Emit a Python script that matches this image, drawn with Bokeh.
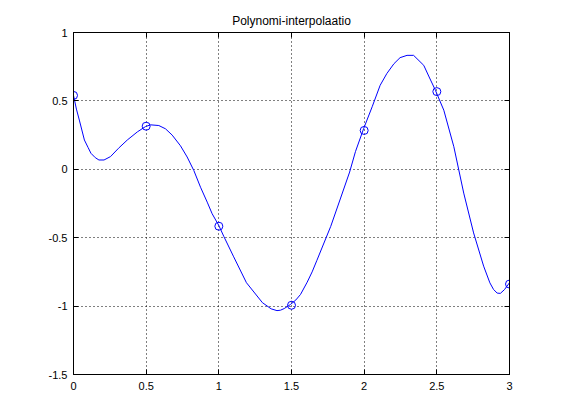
from bokeh.plotting import figure
from bokeh.models import Range1d, LinearAxis, FixedTicker, CustomJSTickFormatter
from bokeh.embed import file_html
from bokeh.resources import INLINE

# Interpolation nodes (circles)
node_x = [0.0, 0.5, 1.0, 1.5, 2.0, 2.5, 3.0]
node_y = [0.54, 0.315, -0.416, -0.994, 0.284, 0.568, -0.839]

# Interpolating curve
curve_x = [0.0, 0.02, 0.04, 0.075, 0.10, 0.12, 0.15, 0.175, 0.21, 0.255, 0.31,
           0.37, 0.44, 0.495, 0.53, 0.587, 0.633, 0.679, 0.736, 0.782, 0.828,
           0.874, 0.92, 0.954, 1.0, 1.034, 1.10, 1.19, 1.30, 1.36, 1.40,
           1.424, 1.45, 1.493, 1.53, 1.562, 1.608, 1.642, 1.675,
           1.77, 1.838, 1.90, 1.94, 1.997, 2.055, 2.11, 2.156, 2.205, 2.247, 2.295,
           2.34, 2.41, 2.447, 2.49, 2.548, 2.617, 2.685, 2.753, 2.822, 2.865, 2.89,
           2.915, 2.937, 2.965, 3.0]
curve_y = [0.54, 0.44, 0.36, 0.214, 0.16, 0.117, 0.085, 0.068, 0.068, 0.093, 0.154,
           0.214, 0.274, 0.312, 0.325, 0.320, 0.296, 0.250, 0.172, 0.090, -0.009,
           -0.131, -0.240, -0.325, -0.411, -0.490, -0.635, -0.829, -0.975, -1.02, -1.033,
           -1.030, -1.018, -0.988, -0.955, -0.915, -0.825, -0.75, -0.665,
           -0.417, -0.21, -0.02, 0.129, 0.299, 0.457, 0.614, 0.70, 0.772, 0.816, 0.833,
           0.833, 0.76, 0.675, 0.578, 0.432, 0.165, -0.174, -0.465, -0.708, -0.83, -0.878,
           -0.905, -0.907, -0.88, -0.829]

x_ticks = [0, 0.5, 1, 1.5, 2, 2.5, 3]
x_tick_labels = ["0", "0.5", "1", "1.5", "2", "2.5", "3"]
y_ticks = [-1.5, -1, -0.5, 0, 0.5, 1]
y_tick_labels = ["-1.5", "-1", "-0.5", "0", "0.5", "1"]
title_text = "Polynomi-interpolaatio"

FONT = "Liberation Sans"

p = figure(frame_width=436, frame_height=342, width=549, height=410,
           x_range=Range1d(0, 3), y_range=Range1d(-1.5, 1),
           output_backend="svg", toolbar_location=None,
           min_border_left=73, min_border_top=32, min_border_right=40,
           min_border_bottom=36, x_axis_location=None, y_axis_location=None)
p.background_fill_color = "white"
p.border_fill_color = "white"
p.outline_line_color = "black"
p.outline_line_width = 1

p.title.text = title_text
p.title.align = "center"
p.title.text_font = FONT
p.title.text_font_size = "12px"
p.title.text_font_style = "normal"
p.title.text_color = "black"

def style_axis(ax, ticks, labels, show_labels, standoff):
    ax.ticker = FixedTicker(ticks=ticks)
    if show_labels:
        ax.major_label_overrides = {t: l for t, l in zip(ticks, labels)}
        ax.major_label_text_font = FONT
        ax.major_label_text_font_size = "11px"
        ax.major_label_text_color = "black"
        ax.major_label_standoff = standoff
    else:
        ax.formatter = CustomJSTickFormatter(code="return ''")
        ax.major_label_standoff = 0
    ax.major_tick_in = 5
    ax.major_tick_out = 0
    ax.minor_tick_line_color = None
    ax.axis_line_color = "black"
    ax.major_tick_line_color = "black"

bottom = LinearAxis()
left = LinearAxis()
top = LinearAxis()
right = LinearAxis()
style_axis(bottom, x_ticks, x_tick_labels, True, 7)
style_axis(left, y_ticks, y_tick_labels, True, 6)
style_axis(top, x_ticks, x_tick_labels, False, 0)
style_axis(right, y_ticks, y_tick_labels, False, 0)
p.add_layout(bottom, "below")
p.add_layout(left, "left")
p.add_layout(top, "above")
p.add_layout(right, "right")

p.xgrid.ticker = FixedTicker(ticks=x_ticks)
p.ygrid.ticker = FixedTicker(ticks=y_ticks)
for g in (p.xgrid, p.ygrid):
    g.grid_line_color = "black"
    g.grid_line_dash = "1 3"
    g.grid_line_width = 1

p.line(curve_x, curve_y, line_color="#0000ff", line_width=1)
p.scatter(node_x, node_y, marker="circle", size=8, fill_color=None,
          line_color="#0000ff", line_width=1)

open("out.html", "w").write(file_html(p, INLINE))
